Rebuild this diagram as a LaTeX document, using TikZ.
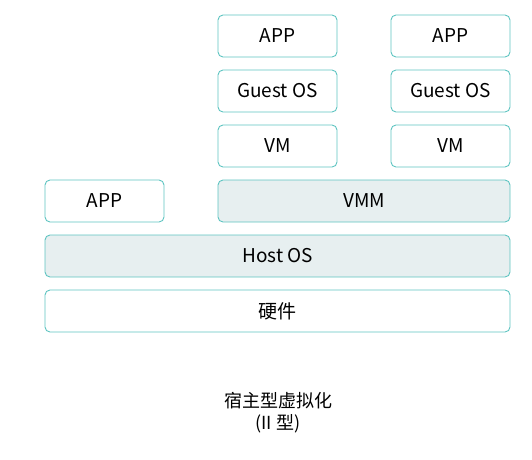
\documentclass[tikz,border=0pt]{standalone}
\usepackage{fontspec}
\setmainfont{Noto Sans CJK SC}
\definecolor{boxline}{HTML}{5EC4C1}
\definecolor{boxfill}{HTML}{E7EFF0}
\begin{document}
\begin{tikzpicture}[
  x=1pt, y=-1pt,
  every node/.style={font=\fontsize{19}{22}\selectfont},
  layer/.style={draw=boxline, line width=0.9pt, rounded corners=5pt,
    minimum height=42pt, inner sep=0pt},
  small/.style={layer, minimum width=119pt},
  wide/.style={layer, minimum width=465pt},
  shaded/.style={fill=boxfill}
]
\useasboundingbox (0,0) rectangle (532,459);
% guest stacks
\node[small] (app1) at (277.5,36) {APP};
\node[small] (app2) at (450.5,36) {APP};
\node[small] (guest1) at (277.5,91) {Guest OS};
\node[small] (guest2) at (450.5,91) {Guest OS};
\node[small] (vm1) at (277.5,146) {VM};
\node[small] (vm2) at (450.5,146) {VM};
% host side
\node[small] (app0) at (104.5,201) {APP};
\node[layer, shaded, minimum width=292pt] (vmm) at (364,201) {VMM};
\node[wide, shaded] (host) at (277.5,256) {Host OS};
\node[wide] (hw) at (277.5,311) {硬件};
% caption
\node[align=center, font=\fontsize{18}{22}\selectfont] (cap) at (278,413) {宿主型虚拟化\\(II 型)};
\end{tikzpicture}
\end{document}
